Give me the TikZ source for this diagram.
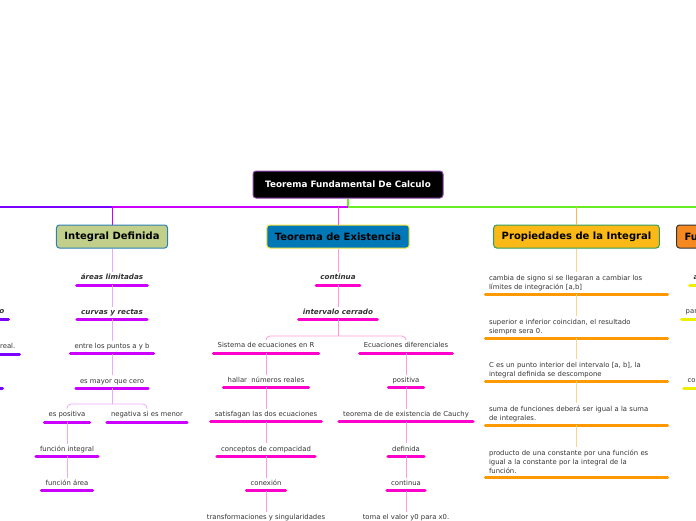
\documentclass[tikz,border=0pt]{standalone}
\usepackage{fontspec}
\setmainfont{DejaVu Sans}
\usepackage{xcolor}
\usetikzlibrary{positioning}

\definecolor{rootedge}{HTML}{8E44AD}
\definecolor{defcol}{HTML}{CC00FF}
\definecolor{deflink}{HTML}{EBA8FF}
\definecolor{leftcol}{HTML}{7A00FF}
\definecolor{excol}{HTML}{FF00CC}
\definecolor{exlink}{HTML}{FF99E0}
\definecolor{propcol}{HTML}{FF9900}
\definecolor{proplink}{HTML}{FFD18A}
\definecolor{funcol}{HTML}{EEEE00}
\definecolor{trunkgreen}{HTML}{66EE22}
\definecolor{olivefill}{HTML}{C2CF8A}
\definecolor{blueedge}{HTML}{2A7FB5}
\definecolor{exfill}{HTML}{0077B6}
\definecolor{yellowedge}{HTML}{F2E23A}
\definecolor{ambfill}{HTML}{FBB917}
\definecolor{greenedge}{HTML}{2E9E5B}
\definecolor{orangefill}{HTML}{F5891F}
\definecolor{ink}{HTML}{333333}

\begin{document}
\begin{tikzpicture}[
  x=1pt, y=-1pt,
  node distance=21.5pt,
  root/.style={draw=rootedge, fill=black, rounded corners=3pt, line width=1pt,
               text=white, font=\bfseries\fontsize{8.8}{10}\selectfont,
               minimum width=190pt, minimum height=27pt},
  head/.style={rounded corners=3pt, line width=1pt, inner xsep=8pt,
               font=\bfseries\fontsize{10}{12}\selectfont, minimum height=23pt},
  item/.style={font=\fontsize{6.85}{9}\selectfont, text=ink, text height=5pt,
               text depth=2.5pt, inner ysep=2.5pt, inner xsep=4pt},
  topic/.style={item, font=\bfseries\itshape\fontsize{7.2}{9}\selectfont},
  propitem/.style={font=\fontsize{6.85}{9}\selectfont, text=ink, text width=175pt,
               align=left, inner xsep=3.5pt, inner ysep=3pt},
  uline/.style={append after command={(\tikzlastnode.south west)
               edge[draw=#1, line width=3pt, line cap=round] (\tikzlastnode.south east)}},
  link/.style={draw=#1, line width=0.8pt},
  trunk/.style={draw=#1, line width=1.6pt}
]
\useasboundingbox (0,0) rectangle (696,520);
\clip (0,0) rectangle (696,520);

% root and main branches
\node[root] (root) at (348,184.5) {Teorema Fundamental De Calculo};
\node[head, draw=blueedge, fill=olivefill] (intdef) at (112,236.5) {Integral Definida};
\node[head, draw=yellowedge, fill=exfill] (exist) at (338,236.5) {Teorema de Existencia};
\node[head, draw=greenedge, fill=ambfill] (prop) at (576.5,236.5) {Propiedades de la Integral};
\node[head, draw=black!80, fill=orangefill, anchor=west, text width=40pt] (fun) at (676,236.5) {Fu};

\coordinate (hub) at (348,207);
\coordinate (jint) at (112,207);
\coordinate (jex) at (338,207);
\coordinate (jprop) at (576.5,207);
\coordinate (westend) at (0,207);
\coordinate (eastend) at (696,207);

\draw[trunk=trunkgreen] (root) -- (hub) -- (eastend);
\draw[trunk=leftcol] (jint) -- (westend);
\draw[trunk=defcol] (hub) -- (jint);
\draw[link=defcol] (jint) -- (intdef);
\draw[link=excol!70] (jex) -- (exist);
\draw[link=propcol!70] (jprop) -- (prop);

% Integral Definida
\node[topic, uline=defcol, anchor=south] (areas) at (112,285) {áreas limitadas};
\node[topic, uline=defcol, below=of areas] (curvas) {curvas y rectas};
\node[item, uline=defcol, below=of curvas] (puntos) {entre los puntos a y b};
\node[item, uline=defcol, below=of puntos] (mayor) {es mayor que cero};
\node[item, uline=defcol, anchor=south] (posit) at (67,422) {es positiva};
\node[item, uline=defcol, anchor=south] (negat) at (147,422) {negativa si es menor};
\node[item, uline=defcol, below=of posit] (finteg) {función integral};
\node[item, uline=defcol, below=of finteg] (farea) {función área};
\coordinate (forkdef) at (112,404);

\draw[link=deflink] (intdef) -- (areas);
\draw[link=deflink] (areas) -- (curvas);
\draw[link=deflink] (curvas) -- (puntos);
\draw[link=deflink] (puntos) -- (mayor);
\draw[link=deflink] (mayor) -- (forkdef);
\draw[link=deflink, rounded corners=4pt] (posit) |- (forkdef) -| (negat);
\draw[link=deflink] (posit) -- (finteg);
\draw[link=deflink] (finteg) -- (farea);

% Teorema de Existencia
\node[topic, uline=excol, anchor=south] (conti) at (338,285) {continua};
\node[topic, uline=excol, below=of conti] (cerrado) {intervalo cerrado};
\node[item, uline=excol, anchor=south] (sistema) at (266,353) {Sistema de ecuaciones en R};
\node[item, uline=excol, below=of sistema] (hallar) {hallar \ números reales};
\node[item, uline=excol, below=of hallar] (satis) {satisfagan las dos ecuaciones};
\node[item, uline=excol, below=of satis] (compac) {conceptos de compacidad};
\node[item, uline=excol, below=of compac] (conex) {conexión};
\node[item, uline=excol, below=of conex] (transf) {transformaciones y singularidades};
\node[item, uline=excol, anchor=south] (ecdif) at (406,353) {Ecuaciones diferenciales};
\node[item, uline=excol, below=of ecdif] (positiva) {positiva};
\node[item, uline=excol, below=of positiva] (cauchy) {teorema de de existencia de Cauchy};
\node[item, uline=excol, below=of cauchy] (definida) {definida};
\node[item, uline=excol, below=of definida] (contib) {continua};
\node[item, uline=excol, below=of contib] (toma) {toma el valor y0 para x0.};
\coordinate (forkex) at (338,336);

\draw[link=exlink] (exist) -- (conti);
\draw[link=exlink] (conti) -- (cerrado);
\draw[link=exlink] (cerrado) -- (forkex);
\draw[link=exlink, rounded corners=4pt] (sistema) |- (forkex) -| (ecdif);
\draw[link=exlink] (sistema) -- (hallar);
\draw[link=exlink] (hallar) -- (satis);
\draw[link=exlink] (satis) -- (compac);
\draw[link=exlink] (compac) -- (conex);
\draw[link=exlink] (conex) -- (transf);
\draw[link=exlink] (ecdif) -- (positiva);
\draw[link=exlink] (positiva) -- (cauchy);
\draw[link=exlink] (cauchy) -- (definida);
\draw[link=exlink] (definida) -- (contib);
\draw[link=exlink] (contib) -- (toma);

% Propiedades de la Integral
\node[propitem, uline=propcol, anchor=south] (signo) at (576.5,294)
  {cambia de signo si se llegaran a cambiar los\\límites de integración [a,b]};
\node[propitem, uline=propcol, anchor=south] (cero) at (576.5,338)
  {superior e inferior coincidan, el resultado\\siempre sera 0.};
\node[propitem, uline=propcol, anchor=south] (interior) at (576.5,381)
  {C es un punto interior del intervalo [a, b], la\\integral definida se descompone};
\node[propitem, uline=propcol, anchor=south] (suma) at (576.5,425)
  {suma de funciones deberá ser igual a la suma\\de integrales.};
\node[propitem, uline=propcol, anchor=south] (producto) at (576.5,477)
  {producto de una constante por una función es\\igual a la constante por la integral de la\\función.};

\draw[link=proplink] (prop) -- (signo);
\draw[link=proplink] (signo) -- (cero);
\draw[link=proplink] (cero) -- (interior);
\draw[link=proplink] (interior) -- (suma);
\draw[link=proplink] (suma) -- (producto);

% cut-off branches at the edges
\node[topic, uline=leftcol, anchor=south east] (lefto) at (8.5,319) {o};
\node[item, uline=leftcol, anchor=south east] (leftreal) at (19.5,354) {real.};
\node[item, uline=leftcol, anchor=south east, minimum width=20pt] (leftlow) at (2.5,388) {};
\node[topic, uline=funcol, anchor=south west] (righta) at (689.5,285) {á};
\node[item, uline=funcol, anchor=south west] (rightpar) at (681.5,319) {par};
\node[item, uline=funcol, anchor=south west] (rightco) at (683.5,388) {co};
\end{tikzpicture}
\end{document}
